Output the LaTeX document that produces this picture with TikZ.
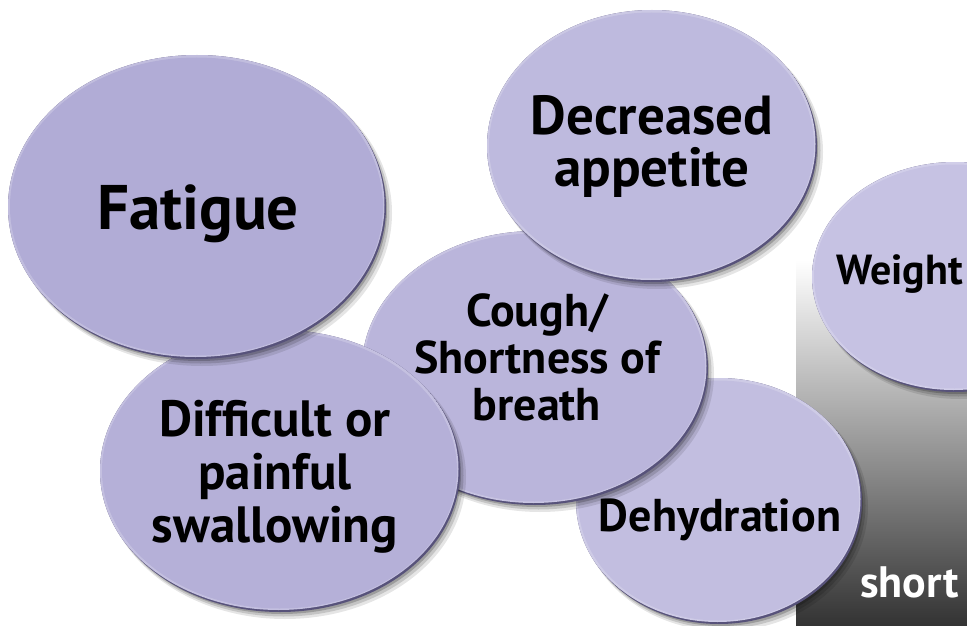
\documentclass[tikz,border=0pt]{standalone}
\usepackage{fontspec}
\setmainfont{PT Sans}
\definecolor{rimc}{HTML}{57527A}
\definecolor{cFat}{HTML}{B1ACD6}
\definecolor{cDif}{HTML}{B5B0D8}
\definecolor{cCou}{HTML}{BAB5DB}
\definecolor{cApp}{HTML}{BEBADE}
\definecolor{cDeh}{HTML}{C2BEE0}
\definecolor{cWei}{HTML}{C6C2E3}
\definecolor{gbot}{HTML}{333333}
\newcommand\myblob[5]{%
  \fill[black,opacity=0.10] (#1+5,#2+6) ellipse ({#3pt+1pt} and {#4pt+1pt});
  \fill[black,opacity=0.14] (#1+3.5,#2+4.5) ellipse (#3pt and #4pt);
  \fill[black,opacity=0.20] (#1+2,#2+3) ellipse ({#3pt-1pt} and {#4pt-1pt});
  \fill[rimc] (#1,#2) ellipse (#3pt and #4pt);
  \begin{scope}
    \clip (#1,#2) ellipse (#3pt and #4pt);
    \fill[#5!80!white] (#1-1.5,#2-2) ellipse (#3pt and #4pt);
    \fill[#5] (#1-0.5,#2-0.5) ellipse ({#3pt-2.5pt} and {#4pt-3pt});
  \end{scope}}
\tikzset{
  lbl/.style={align=center, text=black, inner sep=0pt, font=\bfseries},
}
\begin{document}
\begin{tikzpicture}[x=1pt,y=-1pt]
\useasboundingbox (0,0) rectangle (967,626);
\clip (0,0) rectangle (967,626);
\fill[white] (0,0) rectangle (967,626);
% gradient panel
\shade[top color=white, bottom color=gbot] (796,260) rectangle (967,626);
% ellipses, back to front
\myblob{955}{277}{143}{115}{cWei}
\node[lbl, anchor=base west, font=\bfseries\fontsize{42}{46}\selectfont] (weight) at (836,284) {Weight};
\myblob{719}{501}{143}{123}{cDeh}
\node[lbl, font=\bfseries\fontsize{46}{48}\selectfont] (dehy) at (720,520) {Dehydration};
\myblob{535}{368}{173}{137}{cCou}
\node[lbl, font=\bfseries\fontsize{46}{47}\selectfont] (cough) at (537,357) {Cough/\\Shortness of\\breath};
\myblob{652}{146}{165}{136}{cApp}
\node[lbl, font=\bfseries\fontsize{55}{52}\selectfont] (appetite) at (652,146) {Decreased\\appetite};
\myblob{280}{471}{180}{141}{cDif}
\node[lbl, font=\bfseries\fontsize{51}{53}\selectfont] (diff) at (275,477) {Difficult or\\painful\\swallowing};
\myblob{197}{207}{189}{152}{cFat}
\node[lbl, font=\bfseries\fontsize{63}{64}\selectfont] (fatigue) at (198,214) {Fatigue};
% white text at bottom of panel
\node[lbl, anchor=base west, text=white, font=\bfseries\fontsize{44}{48}\selectfont] (short) at (860,597) {short};
\end{tikzpicture}
\end{document}
